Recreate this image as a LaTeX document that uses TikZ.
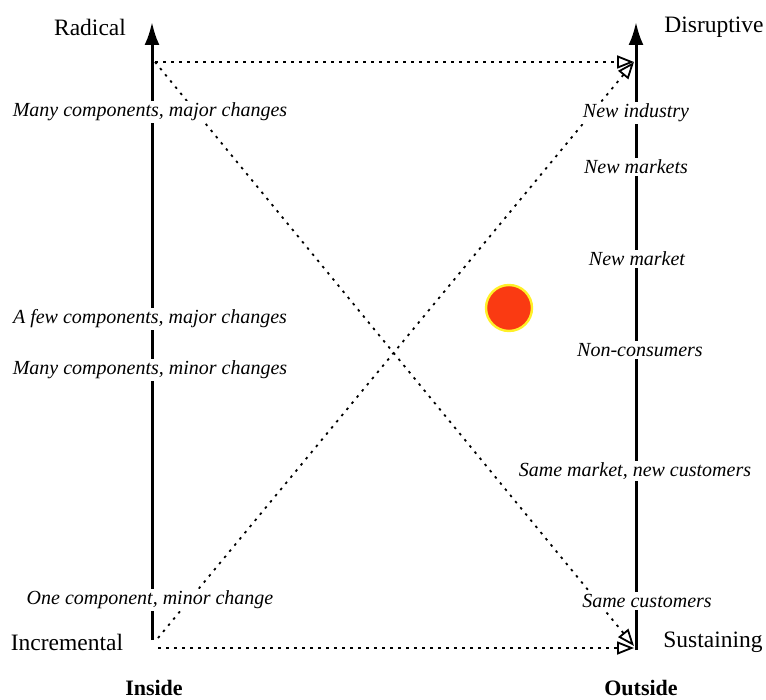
\documentclass[tikz,border=0pt]{standalone}
\usepackage{fontspec}
\setmainfont{Liberation Serif}
\usetikzlibrary{arrows.meta}

\begin{document}
\begin{tikzpicture}[x=1pt,y=-1pt]

\tikzset{
  axis/.style={line width=3pt, -{Latex[length=23pt,width=15pt]}},
  dotline/.style={line width=1.8pt, dash pattern=on 2.5pt off 5.5pt, -{Triangle[open,length=17pt,width=13pt,line width=1.8pt]}},
  leftlabel/.style={fill=white, inner sep=2pt, font=\fontsize{20}{22}\selectfont\itshape},
  rightlabel/.style={fill=white, inner sep=2pt, font=\fontsize{20}{22}\selectfont\itshape},
  cornerlabel/.style={font=\fontsize{23.5}{26}\selectfont},
  sidelabel/.style={font=\fontsize{22}{25}\selectfont\bfseries}
}

\useasboundingbox (0,0) rectangle (766,700);

% 1. Ecken der beiden Achsen
\coordinate (inbot) at (152,640);
\coordinate (intop) at (152,22);
\coordinate (outbot) at (636,650);
\coordinate (outtop) at (636,22);
\coordinate (inhi) at (155,62);
\coordinate (inlo) at (158,638);
\coordinate (inbase) at (158,648);
\coordinate (outhi) at (634,62);
\coordinate (outlo) at (634,646);
\coordinate (outbase) at (634,648);

% 2. Die beiden Achsen
\draw[axis] (inbot) -- (intop);
\draw[axis] (outbot) -- (outtop);

% 3. Gepunktete Verbindungen
\draw[dotline] (inhi) -- (outhi);
\draw[dotline] (inbase) -- (outbase);
\draw[dotline] (inhi) -- (outlo);
\draw[dotline] (inlo) -- (outhi);

% 4. Beschriftungen links (Inside)
\node[leftlabel] (l1) at (150,112) {Many components, major changes};
\node[leftlabel] (l2) at (150,319) {A few components, major changes};
\node[leftlabel] (l3) at (150,370) {Many components, minor changes};
\node[leftlabel] (l4) at (150,600) {One component, minor change};

% 5. Beschriftungen rechts (Outside)
\node[rightlabel] (r1) at (636,113) {New industry};
\node[rightlabel] (r2) at (636,167) {New markets};
\node[rightlabel] (r3) at (637,259) {New market};
\node[rightlabel] (r4) at (640,350) {Non-consumers};
\node[rightlabel] (r5) at (635,471) {Same market, new customers};
\node[rightlabel] (r6) at (647,601) {Same customers};

% 6. Ecken- und Seitenbeschriftungen
\node[cornerlabel] (radical) at (90,27) {Radical};
\node[cornerlabel] (disruptive) at (714,27) {Disruptive};
\node[cornerlabel] (incremental) at (67,642) {Incremental};
\node[cornerlabel] (sustaining) at (713,642) {Sustaining};
\node[sidelabel] (inside) at (154,688) {Inside};
\node[sidelabel] (outside) at (641,688) {Outside};

% 7. Markierung
\node[circle, minimum size=46pt, fill={rgb,255:red,250;green,58;blue,18}, draw={rgb,255:red,255;green,240;blue,40}, line width=2.4pt] (dot) at (509,308) {};

\end{tikzpicture}
\end{document}
